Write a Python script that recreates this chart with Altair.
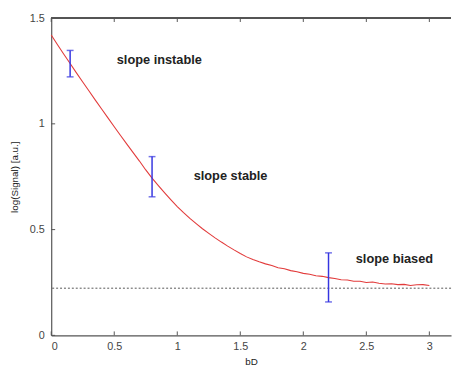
import altair as alt
import pandas as pd

# curve
bd = [0.00, 0.05, 0.10, 0.15, 0.20, 0.25, 0.30, 0.35, 0.40, 0.45, 0.50, 0.55, 0.60, 0.65, 0.70,
      0.75, 0.80, 0.85, 0.90, 0.95, 1.00, 1.05, 1.10, 1.15, 1.20, 1.25, 1.30, 1.35, 1.40, 1.45,
      1.50, 1.55, 1.60, 1.65, 1.70, 1.75, 1.80, 1.85, 1.90, 1.95, 2.00, 2.05, 2.10, 2.15, 2.20,
      2.25, 2.30, 2.35, 2.40, 2.45, 2.50, 2.55, 2.60, 2.65, 2.70, 2.75, 2.80, 2.85, 2.90, 2.95, 3.00]
signal = [1.420, 1.374, 1.329, 1.285, 1.241, 1.198, 1.155, 1.112, 1.070, 1.028, 0.986, 0.945, 0.904,
          0.864, 0.824, 0.782, 0.743, 0.708, 0.674, 0.641, 0.609, 0.580, 0.553, 0.528, 0.504, 0.482,
          0.461, 0.441, 0.422, 0.404, 0.387, 0.371, 0.359, 0.348, 0.338, 0.330, 0.320, 0.315, 0.306,
          0.301, 0.293, 0.289, 0.282, 0.279, 0.273, 0.269, 0.263, 0.262, 0.256, 0.256, 0.250, 0.252,
          0.246, 0.243, 0.244, 0.240, 0.241, 0.236, 0.239, 0.240, 0.236]

# error bars
err_x = [0.15, 0.8, 2.2]
err_lo = [1.222, 0.655, 0.158]
err_hi = [1.347, 0.845, 0.390]

# baseline
baseline = [0.223]

# annotations
ann_text = ["slope instable", "slope stable", "slope biased"]
ann_x = [0.52, 1.13, 2.416]
ann_y = [1.30, 0.752, 0.362]

x_ticks = [0, 0.5, 1, 1.5, 2, 2.5, 3]
y_ticks = [0, 0.5, 1, 1.5]

W, H = 407, 323
XMAX = 3.172

curve = pd.DataFrame({"bD": bd, "sig": signal})
errs = pd.DataFrame({"x": err_x, "lo": err_lo, "hi": err_hi})
anns = pd.DataFrame({"t": ann_text, "x": ann_x, "y": ann_y})
xt = pd.DataFrame({"v": x_ticks})
yt = pd.DataFrame({"v": y_ticks})

xscale = alt.Scale(domain=[0, XMAX], nice=False, zero=False)
yscale = alt.Scale(domain=[0, 1.5], nice=False)

axis_common = dict(
    labelFont="Liberation Sans", labelFontSize=11, labelColor="#444444", format="~g",
    titleFont="Liberation Sans", titleFontSize=10, titleFontWeight="normal", titleColor="#222222",
    domainColor="#555555", domainWidth=1.2, ticks=False, tickSize=0, grid=False,
)

line = alt.Chart(curve).mark_line(color="#e23b3b", strokeWidth=1.1).encode(
    x=alt.X("bD:Q", scale=xscale, title="bD",
            axis=alt.Axis(values=x_ticks, labelPadding=5, titlePadding=6, **axis_common)),
    y=alt.Y("sig:Q", scale=yscale, title="log(Signal) [a.u.]",
            axis=alt.Axis(values=y_ticks, labelPadding=7, titlePadding=10, **axis_common)),
)

base_rule = alt.Chart(pd.DataFrame({"y": baseline})).mark_rule(
    color="#555555", strokeWidth=1, strokeDash=[2, 2]
).encode(y=alt.Y("y:Q", scale=yscale))

err_rule = alt.Chart(errs).mark_rule(color="#3535e0", strokeWidth=1.5).encode(
    x=alt.X("x:Q", scale=xscale), y=alt.Y("lo:Q", scale=yscale), y2="hi:Q"
)
cap_lo = alt.Chart(errs).mark_tick(color="#3535e0", orient="horizontal", size=7, thickness=1.5).encode(
    x=alt.X("x:Q", scale=xscale), y=alt.Y("lo:Q", scale=yscale)
)
cap_hi = alt.Chart(errs).mark_tick(color="#3535e0", orient="horizontal", size=7, thickness=1.5).encode(
    x=alt.X("x:Q", scale=xscale), y=alt.Y("hi:Q", scale=yscale)
)

text = alt.Chart(anns).mark_text(
    font="Liberation Sans", fontSize=13, fontWeight="bold", color="#222222",
    align="left", baseline="middle"
).encode(x=alt.X("x:Q", scale=xscale), y=alt.Y("y:Q", scale=yscale), text="t:N")

top_line = alt.Chart(xt).mark_rule(color="#555555", strokeWidth=1.2).encode(
    x=alt.value(0), x2=alt.value(W), y=alt.value(0)
)
xt_bottom = alt.Chart(xt).mark_rule(color="#555555", strokeWidth=1).encode(
    x=alt.X("v:Q", scale=xscale), y=alt.value(H), y2=alt.value(H - 4)
)
xt_top = alt.Chart(xt).mark_rule(color="#555555", strokeWidth=1).encode(
    x=alt.X("v:Q", scale=xscale), y=alt.value(0), y2=alt.value(4)
)
yt_left = alt.Chart(yt).mark_rule(color="#555555", strokeWidth=1).encode(
    y=alt.Y("v:Q", scale=yscale), x=alt.value(0), x2=alt.value(4)
)

chart = alt.layer(
    base_rule, line, err_rule, cap_lo, cap_hi, text, top_line, xt_bottom, xt_top, yt_left
).properties(
    width=W, height=H,
    autosize=alt.AutoSizeParams(type="none"),
    padding={"left": 44, "top": 7, "right": 2, "bottom": 31},
    background="#ffffff",
).configure_view(stroke=None)

chart.save("out.html", embed_options={"renderer": "svg", "actions": False})
